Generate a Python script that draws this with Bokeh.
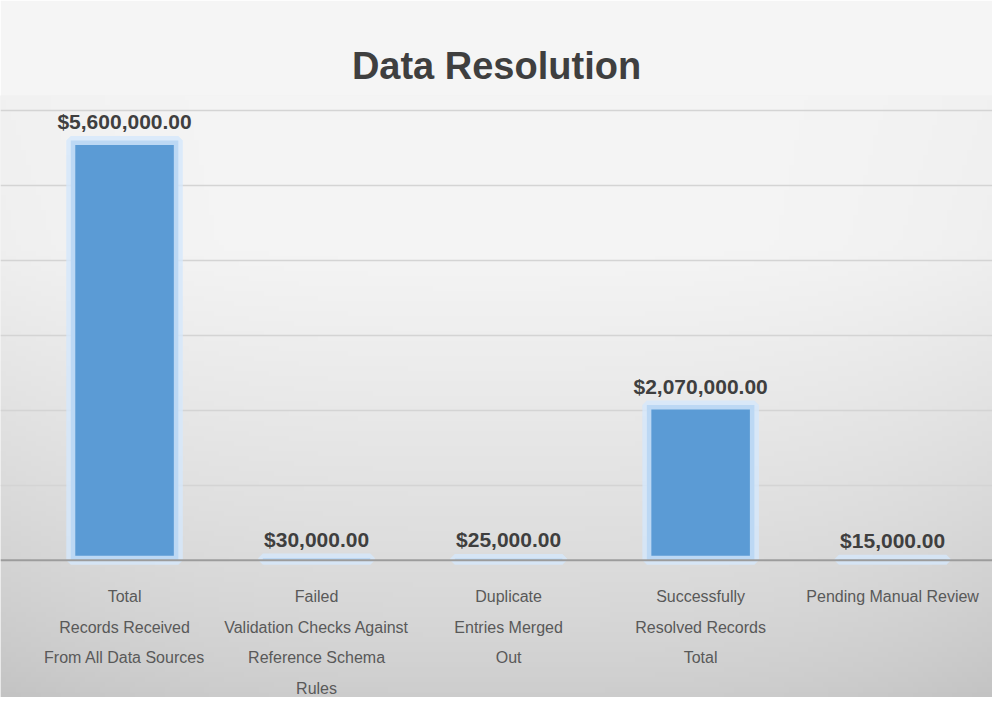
import numpy as np
from bokeh.plotting import figure
from bokeh.models import ColumnDataSource, Span, Range1d, Title
from bokeh.embed import file_html
from bokeh.resources import INLINE
from bokeh.core.properties import value

title_text = "Data Resolution"
categories = [
    "Total\nRecords Received\nFrom All Data Sources",
    "Failed\nValidation Checks Against\nReference Schema\nRules",
    "Duplicate\nEntries Merged\nOut",
    "Successfully\nResolved Records\nTotal",
    "Pending Manual Review",
]
values = [5600000, 30000, 25000, 2070000, 15000]
value_labels = ["$5,600,000.00", "$30,000.00", "$25,000.00", "$2,070,000.00", "$15,000.00"]

x = list(range(len(categories)))
scale = 1_000_000
src = ColumnDataSource(dict(
    x=x,
    top=[v / scale for v in values],
    lab=value_labels,
    cat=categories,
    cy=[-0.37] * len(categories),
))

xr = Range1d(-0.646, 4.52)
yr = Range1d(-1.83, 6.2)
p = figure(width=992, height=697, output_backend="svg", toolbar_location=None,
           x_range=xr, y_range=yr,
           min_border_left=0, min_border_right=0, min_border_bottom=0, min_border_top=95)
p.title = Title(text=title_text, align="center", text_font_size="38px",
                text_font="Liberation Sans", text_color="#3f3f3f", text_font_style="bold",
                standoff=18)
p.background_fill_color = "#ececec"
p.border_fill_color = "#f5f5f5"
p.outline_line_color = None
p.xaxis.visible = False
p.yaxis.visible = False
p.xgrid.grid_line_color = None

# soft background shading (decoration only)
H, W = 120, 200
yy = np.linspace(0, 1, H)[:, None]          # 0 bottom -> 1 top
xx = np.linspace(-1, 1, W)[None, :]
base = 205 + 40 * np.clip(yy / 0.75, 0, 1) ** 0.8
edge = 10 * np.abs(xx) ** 3 * (1 - 0.6 * yy)
g = np.clip(base - edge, 0, 255).astype(np.uint32)
img = (255 << 24) | (g << 16) | (g << 8) | g
p.image_rgba(image=[img.astype(np.uint32)], x=xr.start, y=yr.start,
             dw=xr.end - xr.start, dh=yr.end - yr.start, level="image")

p.ygrid.ticker = [1, 2, 3, 4, 5, 6]
p.ygrid.grid_line_color = "#d4d4d4"
p.ygrid.grid_line_width = 1.5
p.ygrid.level = "underlay"

p.vbar(x="x", top="top", bottom=0, width=0.56, source=src,
       fill_color="#5b9bd5", line_color="#d4e7fb", line_width=9, line_alpha=0.8)

p.add_layout(Span(location=0, dimension="width", line_color="#9c9c9c", line_width=2))

p.text(x="x", y="top", text="lab", source=src, text_align="center", text_baseline="bottom",
       y_offset=-7, text_font=value("Liberation Sans"), text_font_style="bold",
       text_font_size="21px", text_color="#3f3f3f")

p.text(x="x", y="cy", text="cat", source=src, text_align="center", text_baseline="top",
       text_font=value("Liberation Sans"), text_font_size="16px", text_color="#595959",
       text_line_height=1.8)

open("out.html", "w").write(file_html(p, INLINE))
